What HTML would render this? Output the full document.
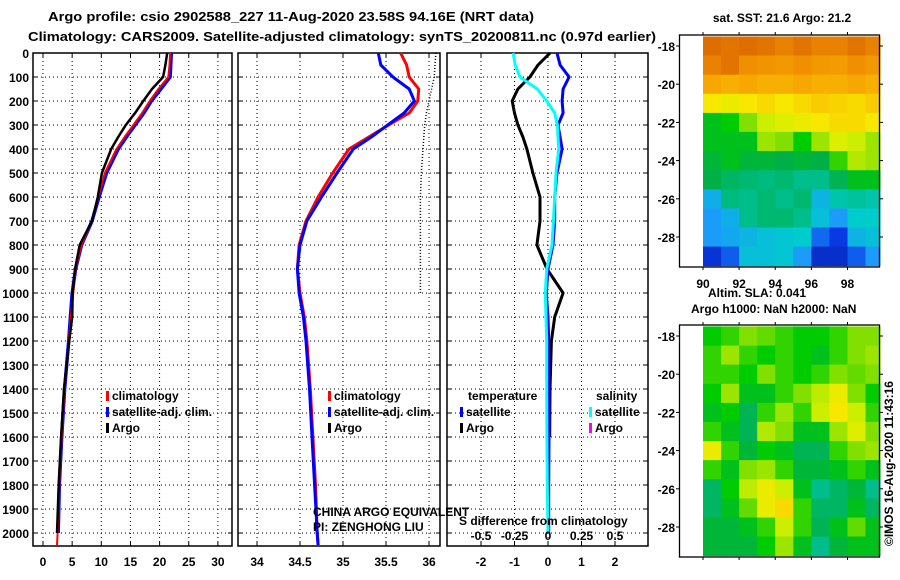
<!DOCTYPE html>
<html><head><meta charset="utf-8"><style>
html,body{margin:0;padding:0;background:#fff;width:900px;height:580px;overflow:hidden}
svg{display:block;font-family:"Liberation Sans",Arial,sans-serif}
.t{font-weight:bold;font-size:13px}
.tk{font-weight:bold;font-size:12px}
</style></head><body>
<svg id="c" width="900" height="580" viewBox="0 0 900 580">
<text x="48" y="21" class="t" textLength="486" lengthAdjust="spacingAndGlyphs">Argo profile: csio 2902588_227 11-Aug-2020 23.58S 94.16E (NRT data)</text>
<text x="28" y="41" class="t" textLength="628" lengthAdjust="spacingAndGlyphs">Climatology: CARS2009. Satellite-adjusted climatology: synTS_20200811.nc (0.97d earlier)</text>
<g id="g"></g>
</svg>
<script>
// ---- data ----
const depths=[0,50,100,150,200,250,300,350,400,500,600,700,800,900,1000,1100,1200,1400,1600,1800,2000,2050];
const tempArgo=[21.3,21.0,20.6,18.7,17.2,15.8,14.2,12.9,11.7,10.1,9.4,8.4,6.3,5.5,5.1,5.0,4.5,3.6,3.1,2.7,2.4,null];
const tempClim=[21.8,21.7,21.5,19.8,18.3,17.0,15.5,14.0,12.6,10.6,9.5,8.4,6.6,5.6,5.2,4.8,4.4,3.7,3.2,2.8,2.5,2.4];
const tempSat=[22.0,21.9,21.8,20.2,18.6,17.3,15.8,14.3,12.9,10.9,9.6,8.4,6.6,5.6,5.0,4.7,4.4,3.7,3.2,2.8,2.6,null];
const salClim=[35.67,35.74,35.77,35.88,35.87,35.77,35.53,35.30,35.07,34.88,34.71,34.57,34.49,34.47,34.50,34.55,34.58,34.62,34.65,34.68,34.70,34.71];
const salSat=[35.41,35.44,35.58,35.77,35.83,35.71,35.52,35.33,35.12,34.93,34.75,34.58,34.50,34.47,34.49,34.54,34.57,34.61,34.64,34.67,34.70,34.71];
const salArgoDot=[36.08,36.07,36.06,36.03,36.0,35.97,35.95,35.94,35.93,35.91,35.90,35.90,35.90,35.90,35.90,null,null,null,null,null,null,null];
const dTempSat=[0.27,0.36,0.63,0.45,0.42,0.45,0.30,0.36,0.42,0.27,0.20,0.20,0.15,0.0,-0.05,0.0,0.02,0.03,0.03,0.02,0.02,null];
const dTempArgo=[0.06,-0.30,-0.54,-0.90,-1.07,-1.0,-0.90,-0.75,-0.63,-0.45,-0.24,-0.24,-0.33,-0.03,0.45,0.20,0.10,0.06,0.05,null,null,null];
const dSalSat=[-0.26,-0.245,-0.21,-0.08,-0.01,0.05,0.07,0.075,0.08,0.06,0.05,0.04,0.03,-0.01,-0.02,-0.015,-0.01,-0.01,-0.008,-0.005,0,null];
const depthTicks=[0,100,200,300,400,500,600,700,800,900,1000,1100,1200,1300,1400,1500,1600,1700,1800,1900,2000];
const tempTicks=[0,5,10,15,20,25,30];
const salTicks=[34,34.5,35,35.5,36];
const salTickLabels=["34","34.5","35","35.5","36"];
const diffTicks=[-2,-1,0,1,2];
const sDiffTicks=[-0.5,-0.25,0,0.25,0.5];
const sDiffLabels=["-0.5","-0.25","0","0.25","0.5"];
const latTicks=[-18,-20,-22,-24,-26,-28];
const lonTicks=[90,92,94,96,98];
const sstGrid=[
[0.93,0.92,0.93,0.92,0.9,0.92,0.9,0.9,0.92,0.9],
[0.9,0.92,0.88,0.87,0.86,0.88,0.86,0.85,0.88,0.86],
[0.82,0.8,0.82,0.8,0.8,0.82,0.8,0.8,0.82,0.8],
[0.72,0.7,0.72,0.74,0.72,0.74,0.76,0.75,0.74,0.76],
[0.5,0.52,0.6,0.66,0.68,0.7,0.72,0.74,0.74,0.72],
[0.5,0.5,0.5,0.62,0.6,0.52,0.62,0.68,0.66,0.62],
[0.48,0.5,0.48,0.48,0.47,0.48,0.47,0.55,0.64,0.62],
[0.47,0.45,0.44,0.43,0.44,0.42,0.42,0.46,0.5,0.5],
[0.33,0.43,0.42,0.44,0.42,0.44,0.34,0.4,0.41,0.4],
[0.3,0.33,0.42,0.44,0.44,0.42,0.36,0.3,0.38,0.38],
[0.3,0.32,0.34,0.36,0.37,0.38,0.22,0.14,0.34,0.36],
[0.12,0.2,0.36,0.36,0.37,0.3,0.1,0.1,0.2,0.3]];
const slaGrid=[
[0.52,0.55,0.6,0.58,0.55,0.52,0.52,0.55,0.6,0.6],
[0.55,0.62,0.55,0.52,0.55,0.52,0.5,0.55,0.6,0.62],
[0.55,0.55,0.52,0.6,0.55,0.52,0.55,0.6,0.58,0.6],
[0.52,0.62,0.5,0.5,0.55,0.6,0.65,0.7,0.6,0.52],
[0.5,0.52,0.46,0.55,0.62,0.55,0.66,0.72,0.66,0.55],
[0.55,0.5,0.46,0.64,0.6,0.5,0.5,0.62,0.68,0.6],
[0.7,0.55,0.48,0.52,0.5,0.46,0.46,0.55,0.6,0.62],
[0.55,0.5,0.6,0.62,0.55,0.48,0.48,0.5,0.55,0.5],
[0.45,0.52,0.65,0.7,0.66,0.5,0.42,0.45,0.48,0.42],
[0.45,0.5,0.58,0.7,0.74,0.55,0.45,0.45,0.5,0.45],
[0.48,0.48,0.5,0.55,0.66,0.55,0.46,0.5,0.58,0.5],
[0.48,0.48,0.48,0.52,0.62,0.5,0.42,0.48,0.5,0.5]];

// ---- helpers ----
const NS="http://www.w3.org/2000/svg";
const root=document.getElementById('g');
function mk(tag,attrs,parent){const e=document.createElementNS(NS,tag);for(const k in attrs)e.setAttribute(k,attrs[k]);(parent||root).appendChild(e);return e;}
function txt(x,y,s,cls,anchor,parent){const e=mk('text',{x:x,y:y,'class':cls||'tk','text-anchor':anchor||'start'},parent);e.textContent=s;return e;}
const yD=d=>53+d*0.24;
const PY0=53,PY1=546;
const xT=t=>43+t*5.83;
const xS=s=>257+(s-34)*86;
const xDf=d=>548+d*33.5;
const xSd=s=>548+s*134;

function panel(name,x0,x1,xticksPx){
  const g=mk('g',{});
  
  
  depthTicks.forEach(d=>{const l=mk('line',{x1:x0,x2:x1,y1:yD(d),y2:yD(d),stroke:'#000','stroke-width':1,'stroke-dasharray':'1,3'},g);
    
    
    mk('line',{x1:x0,x2:x0+4,y1:yD(d),y2:yD(d),stroke:'#000'},g);mk('line',{x1:x1-4,x2:x1,y1:yD(d),y2:yD(d),stroke:'#000'},g);});
  xticksPx.forEach(x=>{const l=mk('line',{x1:x,x2:x,y1:PY0,y2:PY1,stroke:'#000','stroke-width':1,'stroke-dasharray':'1,3'},g);
    
    
    mk('line',{x1:x,x2:x,y1:PY0,y2:PY0+4,stroke:'#000'},g);mk('line',{x1:x,x2:x,y1:PY1-4,y2:PY1,stroke:'#000'},g);});
  const r=mk('rect',{x:x0,y:PY0,width:x1-x0,height:PY1-PY0,fill:'none',stroke:'#000','stroke-width':1.5},g);
  
  
  return g;
}
function line(vals,xf,color,name,w,dash){
  let pts=[];
  vals.forEach((v,i)=>{if(v!==null&&v!==undefined)pts.push(xf(v).toFixed(1)+','+yD(depths[i]).toFixed(1));});
  const p=mk('polyline',{points:pts.join(' '),fill:'none',stroke:color,'stroke-width':w||3,'stroke-linejoin':'round'});
  if(dash)p.setAttribute('stroke-dasharray',dash);
  
  
  return p;
}
function legend(x,y,color,label,name){
  const r=mk('rect',{x:x,y:y-9,width:3,height:10,fill:color});
  
  
  const t=txt(x+6,y,label,'tk');
  
  
}

// ---- panel 1: temperature ----
panel('temperature-panel',33,232,tempTicks.map(xT));
depthTicks.forEach(d=>{const t=txt(29,yD(d)+5,String(d),'tk','end');
  
  });
tempTicks.forEach(v=>{const t=txt(xT(v),566,String(v),'tk','middle');
  
  });
line(tempSat,xT,'#0000ff','temp-satellite-line',3.5);
line(tempClim,xT,'#ff0000','temp-climatology-line',2);
line(tempArgo,xT,'#000000','temp-argo-line',2.5);
legend(106,400,'#ff0000','climatology','legend-climatology');
legend(106,416,'#0000ff','satellite-adj. clim.','legend-satellite-adj');
legend(106,432,'#000000','Argo','legend-argo');

// ---- panel 2: salinity ----
panel('salinity-panel',238,440,salTicks.map(xS));
salTicks.forEach((v,i)=>{const t=txt(xS(v),566,salTickLabels[i],'tk','middle');
  
  });
line(salArgoDot,xS,'#000','salinity-argo-dotted-line',1.5,'1,2');
line(salClim,xS,'#ff0000','salinity-climatology-line',3);
line(salSat,xS,'#0000ff','salinity-satellite-line',3);
legend(328,400,'#ff0000','climatology','legend2-climatology');
legend(328,416,'#0000ff','satellite-adj. clim.','legend2-satellite-adj');
legend(328,432,'#000000','Argo','legend2-argo');
{const a=txt(313,516,'CHINA ARGO EQUIVALENT','');a.setAttribute('style','font-size:12px');


const b=txt(313,531,'PI: ZENGHONG LIU','');b.setAttribute('style','font-size:12px');

}

// ---- panel 3: differences ----
panel('difference-panel',447,648,diffTicks.map(xDf));
diffTicks.forEach(v=>{const t=txt(xDf(v),566,String(v),'tk','middle');
  
  });
line(dTempArgo,xDf,'#000','diff-temp-argo-line',3);
line(dTempSat,xDf,'#0000ff','diff-temp-satellite-line',3);
line(dSalSat,xSd,'#00ffff','diff-salinity-satellite-line',3);
{const t=txt(468,400,'temperature','tk');
const s=txt(596,400,'salinity','tk');}
legend(460,416,'#0000ff','satellite','legend3-temp-satellite');
legend(460,432,'#000000','Argo','legend3-temp-argo');
legend(589,416,'#00ffff','satellite','legend3-sal-satellite');
legend(589,432,'#ff00ff','Argo','legend3-sal-argo');
{const t=txt(459,525,'S difference from climatology','tk');}
sDiffTicks.forEach((v,i)=>{const t=txt(xSd(v),540,sDiffLabels[i],'tk','middle');
  
  });

// ---- maps ----
const stops=[[0,[0,20,140]],[0.15,[10,60,232]],[0.3,[26,156,248]],[0.38,[0,204,204]],[0.42,[0,190,140]],[0.47,[0,176,70]],[0.52,[0,204,0]],[0.6,[130,224,0]],[0.67,[216,240,0]],[0.72,[248,232,0]],[0.8,[248,176,0]],[0.88,[240,144,0]],[0.95,[216,96,0]],[1,[200,80,0]]];
function cmap(v){for(let i=1;i<stops.length;i++){if(v<=stops[i][0]){const a=stops[i-1],b=stops[i];const f=(v-a[0])/(b[0]-a[0]);const c=a[1].map((x,k)=>Math.round(x+(b[1][k]-x)*f));return 'rgb('+c.join(',')+')';}}return 'rgb(200,80,0)';}
const xLon=l=>703+(l-90)*18.06;
function map(name,grid,top,latAt18){
  const yLat=la=>latAt18+(-18-la)*19.1;
  const g=mk('g',{});
  
  
  grid.forEach((row,r)=>row.forEach((v,c)=>{
    const y0=Math.max(yLat(-17.5+ -r),top), y1=yLat(-18.5-r);
    const x0=xLon(90+c), x1=Math.min(xLon(91+c),880);
    const rc=mk('rect',{x:x0.toFixed(1),y:y0.toFixed(1),width:(x1-x0+0.5).toFixed(1),height:(y1-y0+0.5).toFixed(1),fill:cmap(v)},g);
    
    
  }));
  const bottom=top+232;
  const fr=mk('rect',{x:679.5,y:top,width:200,height:232,fill:'none',stroke:'#000','stroke-width':1.3},g);
  
  
  latTicks.forEach(la=>{const y=yLat(la);mk('line',{x1:679.5,x2:676,y1:y,y2:y,stroke:'#000'},g);mk('line',{x1:880,x2:883,y1:y,y2:y,stroke:'#000'},g);
    const t=txt(675,y+5,String(la),'tk','end',g);
    
    });
  lonTicks.forEach(lo=>{const x=xLon(lo);mk('line',{x1:x,x2:x,y1:top,y2:top-3,stroke:'#000'},g);mk('line',{x1:x,x2:x,y1:bottom,y2:bottom+3,stroke:'#000'},g);});
  return {bottom:bottom};
}
const m1=map('sst-map',sstGrid,35,46);
lonTicks.forEach(lo=>{const t=txt(xLon(lo),288,String(lo),'tk','middle');
  
  });
map('sla-map',slaGrid,325,336);
{const a=txt(782,22,'sat. SST: 21.6 Argo: 21.2','tk','middle');
const b=txt(708,297,'Altim. SLA: 0.041','tk');
const c=txt(691,313,'Argo h1000: NaN h2000: NaN','tk');
const d=txt(0,0,'©IMOS 16-Aug-2020 11:43:16','');d.setAttribute('style','font-size:12px');d.setAttribute('transform','translate(893,546) rotate(-90)');
}
</script>
</body></html>
